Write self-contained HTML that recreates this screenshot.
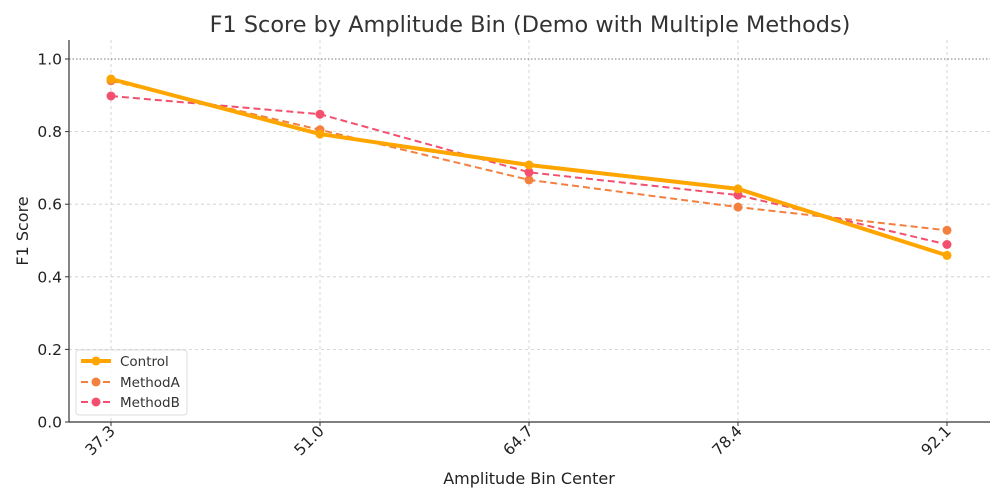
<!DOCTYPE html>
<html><head><meta charset="utf-8"><style>body{margin:0;background:#fff}svg{display:block;font-family:"DejaVu Sans","Liberation Sans",sans-serif}</style></head>
<body>
<svg width="1005" height="503" viewBox="0 0 1005 503">
<rect width="1005" height="503" fill="#fff"/>
<text x="530" y="32" font-size="22.4" fill="#333" text-anchor="middle">F1 Score by Amplitude Bin (Demo with Multiple Methods)</text>
<g stroke="#ccc" stroke-width="0.8" stroke-dasharray="3,3">
<line x1="111" y1="40" x2="111" y2="422"/><line x1="320" y1="40" x2="320" y2="422"/><line x1="529" y1="40" x2="529" y2="422"/><line x1="738" y1="40" x2="738" y2="422"/><line x1="947" y1="40" x2="947" y2="422"/>
<line x1="69" y1="349.4" x2="990" y2="349.4"/><line x1="69" y1="276.8" x2="990" y2="276.8"/><line x1="69" y1="204.2" x2="990" y2="204.2"/><line x1="69" y1="131.6" x2="990" y2="131.6"/>
</g>
<line x1="69" y1="59" x2="990" y2="59" stroke="#777" stroke-width="1" stroke-dasharray="1.5,2"/>
<line x1="69" y1="40" x2="69" y2="422" stroke="#333" stroke-width="1.2"/>
<line x1="69" y1="422" x2="990" y2="422" stroke="#333" stroke-width="1.2"/>
<g font-size="15.5" fill="#222" text-anchor="end">
<text x="62" y="427.5">0.0</text><text x="62" y="354.9">0.2</text><text x="62" y="282.3">0.4</text><text x="62" y="209.7">0.6</text><text x="62" y="137.1">0.8</text><text x="62" y="64.5">1.0</text>
</g>
<g stroke="#333"><line x1="65" y1="422" x2="69" y2="422"/><line x1="65" y1="349.4" x2="69" y2="349.4"/><line x1="65" y1="276.8" x2="69" y2="276.8"/><line x1="65" y1="204.2" x2="69" y2="204.2"/><line x1="65" y1="131.6" x2="69" y2="131.6"/><line x1="65" y1="59" x2="69" y2="59"/>
<line x1="111" y1="422" x2="111" y2="426"/><line x1="320" y1="422" x2="320" y2="426"/><line x1="529" y1="422" x2="529" y2="426"/><line x1="738" y1="422" x2="738" y2="426"/><line x1="947" y1="422" x2="947" y2="426"/></g>
<g font-size="15.5" fill="#222" text-anchor="end">
<text transform="translate(116,432) rotate(-45)">37.3</text><text transform="translate(325,432) rotate(-45)">51.0</text><text transform="translate(534,432) rotate(-45)">64.7</text><text transform="translate(743,432) rotate(-45)">78.4</text><text transform="translate(952,432) rotate(-45)">92.1</text>
</g>
<text x="529" y="484" font-size="16" fill="#222" text-anchor="middle">Amplitude Bin Center</text>
<text transform="translate(28,231) rotate(-90)" font-size="16" fill="#222" text-anchor="middle">F1 Score</text>
<polyline points="111,80.8 320,129.8 529,179.9 738,207.1 947,230.3" fill="none" stroke="#f4803f" stroke-width="2" stroke-dasharray="7,4"/>
<polyline points="111,96 320,114.2 529,172.3 738,195.1 947,244.5" fill="none" stroke="#f2506e" stroke-width="2" stroke-dasharray="7,4"/>
<polyline points="111,79 320,134.1 529,165 738,188.9 947,255.4" fill="none" stroke="#ffa500" stroke-width="4"/>
<g fill="#f4803f"><circle cx="111" cy="80.8" r="4.5"/><circle cx="320" cy="129.8" r="4.5"/><circle cx="529" cy="179.9" r="4.5"/><circle cx="738" cy="207.1" r="4.5"/><circle cx="947" cy="230.3" r="4.5"/></g>
<g fill="#f2506e"><circle cx="111" cy="96" r="4.5"/><circle cx="320" cy="114.2" r="4.5"/><circle cx="529" cy="172.3" r="4.5"/><circle cx="738" cy="195.1" r="4.5"/><circle cx="947" cy="244.5" r="4.5"/></g>
<g fill="#ffa500"><circle cx="111" cy="79" r="4.5"/><circle cx="320" cy="134.1" r="4.5"/><circle cx="529" cy="165" r="4.5"/><circle cx="738" cy="188.9" r="4.5"/><circle cx="947" cy="255.4" r="4.5"/></g>
<rect x="76" y="350" width="111" height="65" rx="3" fill="#fff" fill-opacity="0.85" stroke="#ddd"/>
<line x1="81" y1="361" x2="111" y2="361" stroke="#ffa500" stroke-width="4"/><circle cx="96" cy="361" r="4.5" fill="#ffa500"/>
<line x1="81" y1="382" x2="111" y2="382" stroke="#f4803f" stroke-width="2" stroke-dasharray="7,4"/><circle cx="96" cy="382" r="4.5" fill="#f4803f"/>
<line x1="81" y1="402" x2="111" y2="402" stroke="#f2506e" stroke-width="2" stroke-dasharray="7,4"/><circle cx="96" cy="402" r="4.5" fill="#f2506e"/>
<g font-size="13.5" fill="#333"><text x="120" y="366">Control</text><text x="120" y="387">MethodA</text><text x="120" y="407">MethodB</text></g>
</svg>
</body></html>
